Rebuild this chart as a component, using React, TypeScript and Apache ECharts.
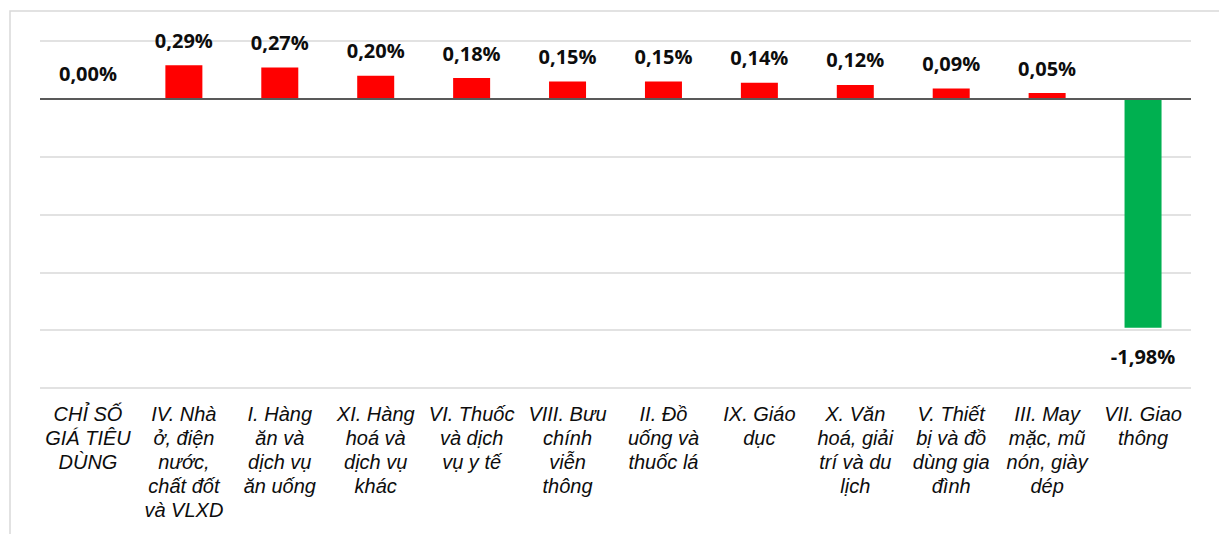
import React, { useEffect, useRef } from "react";
import * as echarts from "echarts";

const categories: string[] = [
  "CHỈ SỐ\nGIÁ TIÊU\nDÙNG",
  "IV. Nhà\nở, điện\nnước,\nchất đốt\nvà VLXD",
  "I. Hàng\năn và\ndịch vụ\năn uống",
  "XI. Hàng\nhoá và\ndịch vụ\nkhác",
  "VI. Thuốc\nvà dịch\nvụ y tế",
  "VIII. Bưu\nchính\nviễn\nthông",
  "II. Đồ\nuống và\nthuốc lá",
  "IX. Giáo\ndục",
  "X. Văn\nhoá, giải\ntrí và du\nlịch",
  "V. Thiết\nbị và đồ\ndùng gia\nđình",
  "III. May\nmặc, mũ\nnón, giày\ndép",
  "VII. Giao\nthông",
];

const values: number[] = [0.0, 0.29, 0.27, 0.2, 0.18, 0.15, 0.15, 0.14, 0.12, 0.09, 0.05, -1.98];

const POS_COLOR = "#ff0000";
const NEG_COLOR = "#00b050";

export default function App() {
  const ref = useRef<HTMLDivElement>(null);
  useEffect(() => {
    if (!ref.current) return;
    const chart = echarts.init(ref.current, null, { renderer: "svg" });
    const fmt = (v: number) => v.toFixed(2).replace(".", ",") + "%";
    chart.setOption({
      animation: false,
      backgroundColor: "#ffffff",
      graphic: [
        {
          type: "rect",
          shape: { x: 10, y: 11, width: 1230, height: 540 },
          style: { fill: "none", stroke: "#d9d9d9", lineWidth: 1.5 },
          silent: true,
        },
      ],
      grid: { left: 40, right: 28, top: 41, bottom: 146, containLabel: false },
      xAxis: {
        type: "category",
        data: categories,
        axisLine: { show: false },
        axisTick: { show: false },
        axisLabel: {
          interval: 0,
          margin: 14,
          fontFamily: "Liberation Sans",
          fontStyle: "italic",
          fontSize: 20,
          lineHeight: 24,
          color: "#0d0d0d",
          align: "center",
          verticalAlign: "top",
        },
      },
      yAxis: {
        type: "value",
        min: -2.5,
        max: 0.5,
        interval: 0.5,
        axisLabel: { show: false },
        axisLine: { show: false },
        axisTick: { show: false },
        splitLine: { lineStyle: { color: "#d9d9d9", width: 1.5 } },
      },
      series: [
        {
          type: "bar",
          barWidth: 37,
          data: values.map((v) => ({
            value: v,
            itemStyle: { color: v < 0 ? NEG_COLOR : POS_COLOR },
            label: v < 0 ? { position: "bottom", distance: 19 } : { position: "top", distance: 15 },
          })),
          label: {
            show: true,
            fontFamily: "Open Sans",
            fontWeight: "bold",
            fontSize: 20,
            color: "#0d0d0d",
            formatter: (p: any) => fmt(p.value),
          },
          markLine: {
            silent: true,
            symbol: "none",
            label: { show: false },
            lineStyle: { color: "#595959", width: 2, type: "solid" },
            data: [{ yAxis: 0 }],
          },
        },
      ],
    });
    return () => chart.dispose();
  }, []);
  return (
    <div
      ref={ref}
      style={{ position: "fixed", left: 0, top: 0, width: 1219, height: 534 }}
    />
  );
}
